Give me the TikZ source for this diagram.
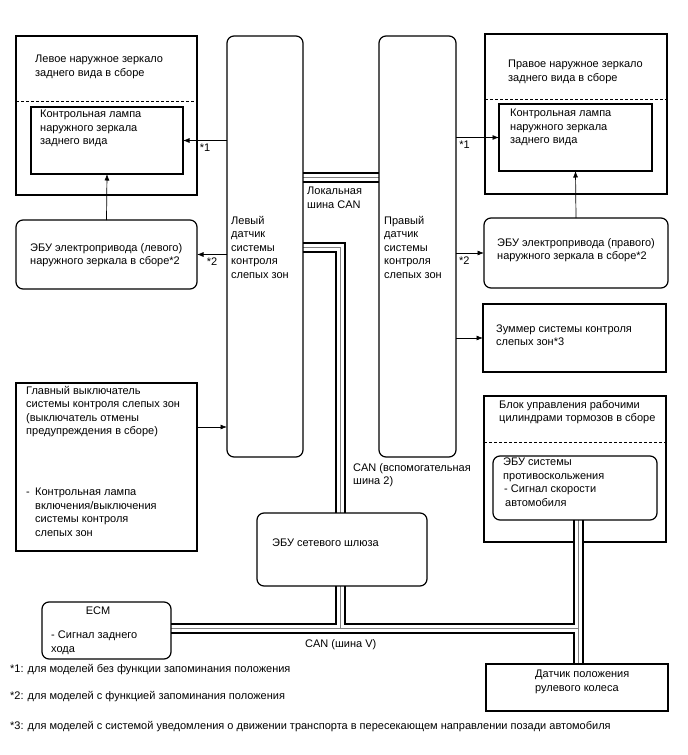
\documentclass[tikz,border=0pt]{standalone}
\usepackage{fontspec}
\setmainfont{Liberation Sans}
\usetikzlibrary{arrows.meta,backgrounds}

\begin{document}
\begin{tikzpicture}[x=1pt, y=-1pt, >={Latex[length=6.5pt,width=5pt]},
  every node/.style={font=\fontsize{11}{13.5}\selectfont},
  box/.style={draw, line width=1.2pt, anchor=north west, inner sep=0pt, outer sep=0pt},
  rbox/.style={box, rounded corners=7pt},
  txt/.style={anchor=north west, align=left, inner sep=0pt},
  sep/.style={dashed, dash pattern=on 3pt off 2pt, line width=0.9pt},
  sig/.style={->, line width=0.7pt}]
\useasboundingbox (0,0) rectangle (688,755);

\node[box, minimum width=181pt, minimum height=159pt] (lmirror) at (16,36) {};
\node[box, minimum width=152pt, minimum height=67pt] (llamp) at (31,107) {};
\node[rbox, minimum width=181pt, minimum height=69pt] (lecu) at (16,220) {};
\node[rbox, minimum width=76pt, minimum height=421pt] (lsensor) at (227,36) {};
\node[rbox, minimum width=77pt, minimum height=421pt] (rsensor) at (379,36) {};
\node[box, minimum width=182pt, minimum height=160pt] (rmirror) at (485,34) {};
\node[box, minimum width=153pt, minimum height=67pt] (rlamp) at (499,104) {};
\node[rbox, minimum width=184pt, minimum height=70pt] (recu) at (484,218) {};
\node[box, minimum width=183pt, minimum height=68pt] (buzzer) at (483,304) {};
\node[box, minimum width=181pt, minimum height=168pt] (mainsw) at (16,383) {};
\node[rbox, minimum width=164pt, minimum height=64pt] (abs) at (493,456) {};
\node[rbox, minimum width=170pt, minimum height=73pt] (gateway) at (257,513) {};
\node[rbox, minimum width=129pt, minimum height=57pt] (ecm) at (42,602) {};
\node[box, minimum width=182pt, minimum height=47pt] (steer) at (486,664) {};

\coordinate (localbus) at (340,177);
\coordinate (sub2bus) at (340,247);
\coordinate (vbus) at (578,628);

\begin{pgfonlayer}{background}
\node[box, minimum width=182pt, minimum height=146pt] (brake) at (484,396) {};
\foreach \w/\c in {11pt/black, 7pt/white, 0.7pt/gray} {
  \draw[line width=\w, draw=\c] (lsensor.east |- localbus) -- (rsensor.west |- localbus)
    (lsensor.east |- sub2bus) -| (gateway.north -| sub2bus)
    (gateway.south -| sub2bus) -- (sub2bus |- vbus)
    (ecm.east |- vbus) -- (vbus)
    (abs.south -| vbus) -- (steer.north -| vbus);
}
\end{pgfonlayer}

\draw[sep] ([yshift=-65pt]lmirror.north west) -- ([yshift=-65pt]lmirror.north east);
\draw[sep] ([yshift=-65pt]rmirror.north west) -- ([yshift=-65pt]rmirror.north east);
\draw[sep] ([yshift=-46pt]brake.north west) -- ([yshift=-46pt]brake.north east);

\node[txt] (lmirtxt) at (35,55) {Левое наружное зеркало\\заднего вида в сборе};
\node[txt] (llamptxt) at (40,110) {Контрольная лампа\\наружного зеркала\\заднего вида};
\node[txt, anchor=west] (lecutxt) at (30,255) {ЭБУ электропривода (левого)\\наружного зеркала в сборе*2};
\node[txt, anchor=west] (lsenstxt) at (231,247) {Левый\\датчик\\системы\\контроля\\слепых зон};
\node[txt, anchor=west] (rsenstxt) at (384,247) {Правый\\датчик\\системы\\контроля\\слепых зон};
\node[txt] (localtxt) at (307,187) {Локальная\\шина CAN};
\node[txt] (rmirtxt) at (508,60) {Правое наружное зеркало\\заднего вида в сборе};
\node[txt] (rlamptxt) at (510,109) {Контрольная лампа\\наружного зеркала\\заднего вида};
\node[txt, anchor=west] (recutxt) at (497,250) {ЭБУ электропривода (правого)\\наружного зеркала в сборе*2};
\node[txt, anchor=west] (buzztxt) at (496,335) {Зуммер системы контроля\\слепых зон*3};
\node[txt] (braketxt) at (499,400) {Блок управления рабочими\\цилиндрами тормозов в сборе};
\node[txt] (abstxt) at (503,458) {ЭБУ системы\\противоскольжения\\\hspace*{1pt}- Сигнал скорости\\\hspace*{2pt}автомобиля};
\node[txt] (mainswtxt) at (26,386) {Главный выключатель\\системы контроля слепых зон\\(выключатель отмены\\предупреждения в сборе)};
\node[txt] (swlamptxt) at (26,488) {\makebox[9pt][l]{-}Контрольная лампа\\\hspace*{9pt}включения/выключения\\\hspace*{9pt}системы контроля\\\hspace*{9pt}слепых зон};
\node[txt] (sub2txt) at (353,463) {CAN (вспомогательная\\шина 2)};
\node[txt, anchor=west] (gwtxt) at (272,543) {ЭБУ сетевого шлюза};
\node[txt, anchor=center] (ecmtxt) at (98,611) {ECM};
\node[txt] (revtxt) at (51,631) {- Сигнал заднего\\хода};
\node[txt, anchor=west] (vbustxt) at (305,645) {CAN (шина V)};
\node[txt] (steertxt) at (535,670) {Датчик положения\\рулевого колеса};

\draw[sig] (lsensor.west |- llamp.east) -- node[midway, below] (l1) {*1} (llamp.east);
\draw[sig] (lsensor.west |- lecu.east) -- node[midway, below] (l2) {*2} (lecu.east);
\draw[sig] (lecu.north) -- (llamp.south);
\draw[sig] (rsensor.east |- rlamp.west) -- node[pos=0.2, below] (r1) {*1} (rlamp.west);
\draw[sig] (rsensor.east |- recu.west) -- node[pos=0.3, below] (r2) {*2} (recu.west);
\draw[sig] (recu.north) -- (rlamp.south);
\draw[sig] (rsensor.east |- buzzer.west) -- (buzzer.west);
\coordinate (swout) at ([yshift=40pt]mainsw.east);
\draw[sig] (swout) -- (swout -| lsensor.west);

\node[txt, anchor=west] (note1) at (10,670) {*1: для моделей без функции запоминания положения};
\node[txt, anchor=west] (note2) at (10,697) {*2: для моделей с функцией запоминания положения};
\node[txt, anchor=west] (note3) at (10,727) {*3: для моделей с системой уведомления о движении транспорта в пересекающем направлении позади автомобиля};
\end{tikzpicture}
\end{document}
